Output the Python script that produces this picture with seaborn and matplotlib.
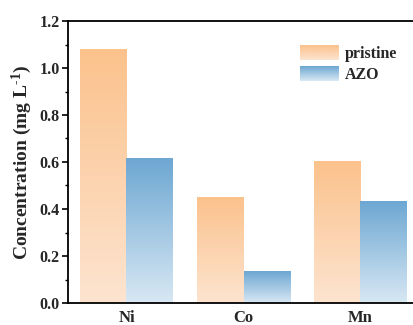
import numpy as np
import pandas as pd
import matplotlib
matplotlib.use("Agg")
import matplotlib.pyplot as plt
import seaborn as sns
from matplotlib.colors import LinearSegmentedColormap, Normalize
from matplotlib.legend_handler import HandlerBase
from matplotlib.image import BboxImage
from matplotlib.transforms import Bbox, TransformedBbox
from matplotlib.ticker import MultipleLocator, FormatStrFormatter
from matplotlib.patches import Patch

metals = ["Ni", "Co", "Mn"]
series = ["pristine", "AZO"]
pristine = [1.08, 0.447, 0.604]
azo = [0.615, 0.136, 0.434]

orange_light, orange_dark = "#FDE4D0", "#FBC28C"
blue_light, blue_dark = "#D8E8F4", "#6DA7D2"

sns.set_theme(style="ticks")
plt.rcParams["font.family"] = ["Liberation Serif", "DejaVu Serif"]
plt.rcParams["font.weight"] = "bold"
plt.rcParams["mathtext.fontset"] = "custom"
plt.rcParams["mathtext.rm"] = "Liberation Serif:bold"
plt.rcParams["mathtext.bf"] = "Liberation Serif:bold"
plt.rcParams["mathtext.default"] = "bf"

df = pd.DataFrame({
    "metal": metals * 2,
    "sample": [series[0]] * 3 + [series[1]] * 3,
    "value": pristine + azo,
})

cmaps = {
    series[0]: LinearSegmentedColormap.from_list("o", [orange_light, orange_dark]),
    series[1]: LinearSegmentedColormap.from_list("b", [blue_light, blue_dark]),
}

fig = plt.figure(figsize=(4.14, 3.25), dpi=100)
ax = fig.add_axes([68 / 414, 22 / 325, 351 / 414, 282 / 325])

sns.barplot(data=df, x="metal", y="value", hue="sample", order=metals,
            hue_order=series, palette=[orange_dark, blue_dark], width=0.8,
            saturation=1, legend=False, ax=ax)

grad = np.linspace(0, 1, 256).reshape(-1, 1)
for container, s in zip(ax.containers, series):
    for bar in container:
        x0, w, h = bar.get_x(), bar.get_width(), bar.get_height()
        bar.set_visible(False)
        ax.imshow(grad, extent=[x0, x0 + w, 0, h], cmap=cmaps[s], origin="lower",
                  aspect="auto", interpolation="bicubic", zorder=2)

ax.set_xlim(-0.5, 2.5)
ax.set_ylim(0, 1.2)
ax.yaxis.set_major_locator(MultipleLocator(0.2))
ax.yaxis.set_minor_locator(MultipleLocator(0.1))
ax.yaxis.set_major_formatter(FormatStrFormatter("%.1f"))
ax.tick_params(axis="y", which="major", direction="out", length=4, width=1.2,
               labelsize=11.5, color="black", pad=2)
ax.tick_params(axis="y", which="minor", direction="out", length=2.5, width=1.0,
               color="black", left=True)
ax.tick_params(axis="x", length=0, labelsize=12, pad=5)
for lab in ax.get_xticklabels() + ax.get_yticklabels():
    lab.set_fontweight("bold")
for sp in ["left", "bottom", "top", "right"]:
    ax.spines[sp].set_linewidth(1.3)
    ax.spines[sp].set_color("black")

ax.set_xlabel("")
ax.set_ylabel(r"Concentration (mg L$^{\text{-1}}$)", fontsize=14, fontweight="bold",
              labelpad=4)


class GradHandler(HandlerBase):
    def __init__(self, cmap):
        super().__init__()
        self.cmap = cmap

    def create_artists(self, legend, orig_handle, xdescent, ydescent, width,
                       height, fontsize, trans):
        bb = Bbox.from_bounds(-xdescent, -ydescent, width, height)
        img = BboxImage(TransformedBbox(bb, trans), cmap=self.cmap,
                        norm=Normalize(0, 1), interpolation="bicubic", origin="upper")
        img.set_data(np.linspace(1, 0, 64).reshape(-1, 1))
        return [img]


handles = [Patch(facecolor=orange_dark), Patch(facecolor=blue_dark)]
ax.legend(handles=handles, labels=series,
          handler_map={handles[0]: GradHandler(cmaps[series[0]]),
                       handles[1]: GradHandler(cmaps[series[1]])},
          loc="upper left", bbox_to_anchor=(0.661, 0.915), borderaxespad=0,
          borderpad=0, frameon=False, prop={"size": 11.5, "weight": "bold"},
          handlelength=2.4, handleheight=1.05, handletextpad=0.4, labelspacing=0.3)

fig.savefig("out.png", dpi=100)
